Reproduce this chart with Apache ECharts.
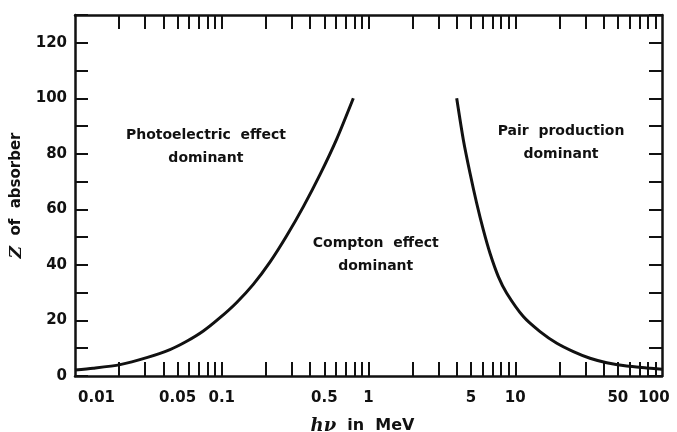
<!DOCTYPE html>
<html>
<head>
<meta charset="utf-8">
<script src="https://cdn.jsdelivr.net/npm/echarts@6/dist/echarts.min.js"></script>
<style>
  html, body { margin: 0; padding: 0; background: #fff; }
  #chart { width: 677px; height: 432px; }
</style>
</head>
<body>
<div id="chart"></div>
<script>
// photoelectric / compton boundary  [hv MeV, Z]
var photoX = [0.01, 0.0133, 0.0203, 0.0308, 0.0444, 0.0577, 0.0749, 0.0973, 0.126, 0.164, 0.213, 0.277, 0.360, 0.467, 0.607, 0.788]
var photoZ = [2.2, 2.8, 4.1, 6.6, 9.5, 12.5, 16.2, 21, 26.4, 33, 41, 50.5, 61, 72.5, 85.3, 100]
// compton / pair production boundary
var pairX = [3.99, 4.43, 4.92, 5.46, 6.06, 6.73, 7.67, 8.75, 11.35, 14.75, 19.2, 24.9, 32.3, 42, 57.4, 78.7, 100]
var pairZ = [100, 85, 73, 62.2, 52.6, 44.2, 35.8, 29.8, 21.4, 16, 11.8, 8.8, 6.4, 4.8, 3.6, 2.9, 2.4]

var xLabels = [0.01, 0.05, 0.1, 0.5, 1, 5, 10, 50, 100]
var xTicks = [0.02, 0.03, 0.04, 0.05, 0.06, 0.07, 0.08, 0.09, 0.1,
    0.2, 0.3, 0.4, 0.5, 0.6, 0.7, 0.8, 0.9, 1,
    2, 3, 4, 5, 6, 7, 8, 9, 10,
    20, 30, 40, 50, 60, 70, 80, 90]
var yLabels = [0, 20, 40, 60, 80, 100, 120]

var notes = [
    { x: 0.078, z: 82.5, text: 'Photoelectric  effect\ndominant' },
    { x: 1.12, z: 43.6, text: 'Compton  effect\ndominant' },
    { x: 20.5, z: 83.9, text: 'Pair  production\ndominant' }
]

var font = 'DejaVu Sans'
var black = '#111'

function pairs(xs, ys) {
    return xs.map(function (x, i) { return [x, ys[i]] })
}

var myChart = echarts.init(document.getElementById('chart'))

function xAxisOf(pos, showLabel) {
    return {
        type: 'log',
        logBase: 10,
        min: 0.01,
        max: 100,
        position: pos,
        axisLine: { onZero: false, lineStyle: { color: black, width: 2.5 } },
        axisTick: {
            inside: true,
            length: 14,
            customValues: xTicks,
            lineStyle: { color: black, width: 2 }
        },
        axisLabel: {
            show: showLabel,
            customValues: xLabels,
            margin: 15,
            color: black,
            fontFamily: font,
            fontWeight: 'bold',
            fontSize: 15,
            formatter: function (v) {
                if (v === 0.01) return '{first|0.01}'
                if (v === 100) return '{last|100}'
                return String(v)
            },
            rich: {
                first: { padding: [0, 0, 0, 43], fontFamily: font, fontWeight: 'bold', fontSize: 15, color: black },
                last: { padding: [0, 16, 0, 0], fontFamily: font, fontWeight: 'bold', fontSize: 15, color: black }
            }
        },
        splitLine: { show: false },
        minorTick: { show: false }
    }
}

function yAxisOf(pos, showLabel) {
    return {
        type: 'value',
        min: 0,
        max: 130,
        interval: 10,
        position: pos,
        axisLine: { show: true, onZero: false, lineStyle: { color: black, width: 2.5 } },
        axisTick: {
            inside: true,
            length: 13,
            lineStyle: { color: black, width: 2 }
        },
        axisLabel: {
            show: showLabel,
            customValues: yLabels,
            margin: 8,
            color: black,
            fontFamily: font,
            fontWeight: 'bold',
            fontSize: 15
        },
        splitLine: { show: false }
    }
}

var xBottom = xAxisOf('bottom', true)
xBottom.name = '{h|hν}  in  MeV'
xBottom.nameLocation = 'middle'
xBottom.nameGap = 41
xBottom.nameTextStyle = {
    color: black, fontFamily: font, fontWeight: 'bold', fontSize: 16,
    padding: [0, 12, 0, 0],
    rich: { h: { fontFamily: 'DejaVu Serif', fontStyle: 'italic', fontWeight: 'bold', fontSize: 18, color: black } }
}

var yLeft = yAxisOf('left', true)
yLeft.name = '{z|Z}  of  absorber'
yLeft.nameLocation = 'middle'
yLeft.nameGap = 46
yLeft.nameTextStyle = {
    color: black, fontFamily: font, fontWeight: 'bold', fontSize: 15,
    rich: { z: { fontFamily: 'DejaVu Serif', fontStyle: 'italic', fontWeight: 'bold', fontSize: 17, color: black } }
}

option = {
    backgroundColor: '#fff',
    animation: false,
    grid: { left: 75, right: 15, top: 15, bottom: 56, containLabel: false, outerBoundsMode: 'none' },
    xAxis: [xBottom, xAxisOf('top', false)],
    yAxis: [yLeft, yAxisOf('right', false)],
    series: [
        {
            type: 'line',
            data: pairs(photoX, photoZ),
            smooth: 0.25,
            showSymbol: false,
            lineStyle: { color: black, width: 3 }
        },
        {
            type: 'line',
            data: pairs(pairX, pairZ),
            smooth: 0.25,
            showSymbol: false,
            lineStyle: { color: black, width: 3 }
        },
        {
            // region labels, placed on the top/right axes so those axes get drawn too
            type: 'scatter',
            xAxisIndex: 1,
            yAxisIndex: 1,
            symbolSize: 0,
            itemStyle: { opacity: 1 },
            data: notes.map(function (n) { return { value: [n.x, n.z], text: n.text } }),
            label: {
                show: true,
                position: 'inside',
                align: 'center',
                verticalAlign: 'middle',
                color: black,
                fontFamily: font,
                fontWeight: 'bold',
                fontSize: 14,
                lineHeight: 23,
                formatter: function (p) { return p.data.text }
            }
        }
    ]
}
myChart.setOption(option)
</script>
</body>
</html>
